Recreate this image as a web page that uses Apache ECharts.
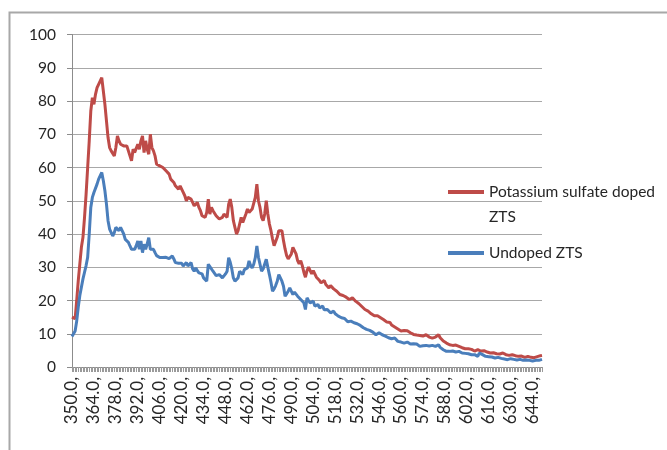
<!DOCTYPE html>
<html>
<head>
<meta charset="utf-8">
<script src="https://cdn.jsdelivr.net/npm/echarts@6/dist/echarts.min.js"></script>
<style>html,body{margin:0;padding:0;background:#fff}#c{width:667px;height:450px}</style>
</head>
<body>
<div id="c"></div>
<script>
// wavelength categories, 350 .. 650 nm in 1 nm steps
var startNm = 350, endNm = 650;
var categories = [];
for (var w = startNm; w <= endNm; w++) categories.push(w);

var seriesNames = ['Potassium sulfate doped ZTS', 'Undoped ZTS'];
var yTicks = [0, 10, 20, 30, 40, 50, 60, 70, 80, 90, 100];

// Potassium sulfate doped ZTS (red)
var dopedValues = [
15.0,14.5,14.5,20,26,31,36,39,45,52,
60,68,77,81,79,82,84,85,85.5,87,
83,79,74,69,66,65,64.5,63.5,66,69.5,
68,67,67.5,66.5,66,66.5,65,63.5,62,65.5,
64.5,64,67,65.5,68,69.5,64.5,68,65.5,64,
70,66,65,63.5,61,60.5,60.5,61,60,59.5,
59,58.5,58,56.5,56,55.5,54.5,54,53.5,54.5,
54,52.5,51.5,50,51,51.5,50.5,49.5,48.5,49,
49.5,48,47,45.5,45.5,45,46.5,50.5,46,48,
47,46.5,45.5,45,44.5,44.5,45,46,45.5,45,
49,50.5,48,44,42,40,41,43,45,43.5,
44,46,47.5,46.5,46,47.5,47,51,55,50,
48,45,44,46,50,46,43,41,38.5,36.5,
37,39,41,40.5,41,38,35.5,33.5,32.5,33,
34,36,35.5,34,32,31,32,30.5,28.5,27,
29,30,29,28,29,28,27,26.5,26,25.3,
25.8,26,24.8,24.3,23.8,24.5,24.3,23.5,23.3,22.8,
22.3,21.8,21.3,21.5,21.8,21,20.8,20.3,20.6,20.8,
20.2,19.8,19.3,19.1,18.8,18.2,17.8,17.3,17.0,16.8,
16.4,16.0,15.8,15.4,15.3,15.4,15.0,14.8,14.4,14.2,
13.8,13.5,13.3,13.4,12.6,12.3,12.0,11.8,11.4,11.2,
10.8,11.2,11.0,10.8,10.9,10.6,10.3,10.1,9.8,9.7,
9.6,9.2,9.5,9.7,9.3,9.5,9.7,9.3,9.0,8.8,
8.7,8.8,9.0,9.4,9.7,8.8,8.2,7.8,7.5,7.2,
6.9,6.7,6.8,6.5,6.2,6.6,6.5,6.2,6.0,5.8,
5.7,5.5,5.2,5.5,5.6,5.3,5.0,4.8,5.1,5.2,
5.1,4.8,4.7,4.9,4.6,4.5,4.3,4.2,4.5,4.3,
4.2,4.0,3.9,3.9,4.1,4.2,3.8,3.7,3.7,3.5,
3.6,3.7,3.5,3.4,3.3,3.2,3.5,3.3,3.2,2.9,
3.0,3.2,3.0,2.9,2.7,2.8,2.9,3.1,3.2,3.4,
3.5
];

// Undoped ZTS (blue)
var undopedValues = [
9.2,9.8,10.8,13.8,18,21.5,24,26.5,28.5,30.5,
33,40,48,51,52.5,52,55,56.5,57,58.5,
56,53,49,44,41.5,41,39.4,40.4,42,41.5,
41,42,41,40,38.4,39,37.5,36.4,35.4,36,
35.4,36.5,37.9,35.4,37.9,34.4,36.9,35.4,37,38.9,
35.4,35.5,35.4,34.4,33.5,32.9,32.9,33.2,32.9,32.4,
33,33.4,32.6,32.4,33.4,32.5,31.4,31.4,31.2,30.9,
31.2,30.4,31,31.4,30.4,30.8,31.4,29.5,28.8,29.8,
29,28.3,28.8,28,26.8,26.2,25.8,30.9,30.2,29.8,
28.8,28.3,27.5,27.3,27.8,27.3,26.8,27.3,28,28.8,
32.9,31.5,29.5,26.8,25.8,26.2,26.8,28.8,28.2,27.8,
29.3,29.5,29.8,31.9,30.5,29.8,30.9,32.9,36.4,33,
30.9,28.8,29.5,29.8,32.4,30,27.8,25.5,22.8,23.5,
24.5,25.8,27.8,26.8,25.8,24.3,21.3,22,22.8,23.8,
24.3,21.8,22.5,22.8,21.3,20.8,20.3,19.8,19.3,17.3,
20.8,20,19.3,19.5,19.8,18.3,18.5,18.8,17.8,18,
18.3,17.2,16.8,17.3,16.8,16.3,16.6,16.8,16,15.8,
15.3,15,14.8,14.3,14.6,14.8,13.6,13.3,13.8,13.5,
13.3,12.8,13,13.3,12.5,12.3,11.8,11.5,11.3,11.3,
11.0,10.8,10.5,10.3,9.7,10.0,10.3,9.9,9.7,9.2,
9.3,9.2,8.8,8.7,8.5,8.6,8.7,8.2,7.7,7.2,
7.5,7.7,7.2,7.4,7.5,7.0,6.9,7.2,7.0,6.7,
6.9,6.6,6.2,6.5,6.4,6.2,6.5,6.7,6.3,6.2,
6.5,6.7,6.2,6.5,6.7,5.9,5.6,5.2,4.9,4.7,
4.9,4.7,4.5,4.8,4.9,4.5,4.6,4.7,4.3,4.2,
4.5,4.1,3.9,4.0,4.2,3.7,3.5,3.7,3.4,3.2,
4.2,3.9,3.7,3.4,3.2,2.9,3.1,3.2,3.0,2.9,
2.7,2.8,2.9,2.5,2.6,2.7,2.4,2.3,2.2,2.4,
2.5,2.2,2.3,2.4,2.1,2.2,2.3,2.1,2.0,2.2,
2.1,1.9,2.0,2.1,1.8,1.9,2.0,1.9,2.0,2.2,
2.3
];

var FONT = 'Lato, "Open Sans", sans-serif';
var chart = echarts.init(document.getElementById('c'), null, {renderer: 'canvas'});
chart.setOption({
  animation: false,
  backgroundColor: '#ffffff',
  graphic: [{
    type: 'rect', silent: true, z: -10,
    shape: {x: 9.5, y: 12.5, width: 720, height: 520},
    style: {fill: 'none', stroke: '#a8a8a8', lineWidth: 2}
  }],
  grid: {left: 72, right: 125, top: 34.5, bottom: 83, containLabel: false},
  legend: [{
    data: [{name: seriesNames[0], icon: 'rect'}],
    orient: 'vertical', left: 448, top: 154.5, padding: 0,
    itemWidth: 36, itemHeight: 4, itemGap: 0,
    formatter: function () { return ' \nPotassium sulfate doped\nZTS'; },
    textStyle: {fontFamily: FONT, fontSize: 15.5, color: '#262626', lineHeight: 25}
  }, {
    data: [{name: seriesNames[1], icon: 'rect'}],
    orient: 'vertical', left: 448, top: 243, padding: 0,
    itemWidth: 36, itemHeight: 4, itemGap: 0,
    textStyle: {fontFamily: FONT, fontSize: 15.5, color: '#262626', lineHeight: 20}
  }],
  xAxis: {
    type: 'category', boundaryGap: false, data: categories,
    axisLine: {lineStyle: {color: '#8c8c8c', width: 1}},
    axisTick: {show: true, interval: 0, length: 5, lineStyle: {color: '#9a9a9a', width: 1}},
    axisLabel: {
      interval: 13, rotate: 90, margin: 10,
      fontFamily: FONT, fontSize: 17, color: '#262626',
      formatter: function (v) { return Number(v).toFixed(1) + ','; }
    },
    splitLine: {show: false}
  },
  yAxis: {
    type: 'value', min: yTicks[0], max: yTicks[yTicks.length - 1], interval: 10,
    axisLine: {show: true, lineStyle: {color: '#8c8c8c', width: 1}},
    axisTick: {show: true, length: 5, lineStyle: {color: '#8c8c8c'}},
    axisLabel: {fontFamily: FONT, fontSize: 15.5, color: '#262626', margin: 16},
    splitLine: {lineStyle: {color: '#a8a8a8', width: 1}}
  },
  series: [{
    name: seriesNames[0], type: 'line', data: dopedValues,
    showSymbol: false, symbol: 'none',
    lineStyle: {color: '#be4b48', width: 3}, itemStyle: {color: '#be4b48'}
  }, {
    name: seriesNames[1], type: 'line', data: undopedValues,
    showSymbol: false, symbol: 'none',
    lineStyle: {color: '#4a7ebb', width: 3}, itemStyle: {color: '#4a7ebb'}
  }]
});
</script>
</body>
</html>
